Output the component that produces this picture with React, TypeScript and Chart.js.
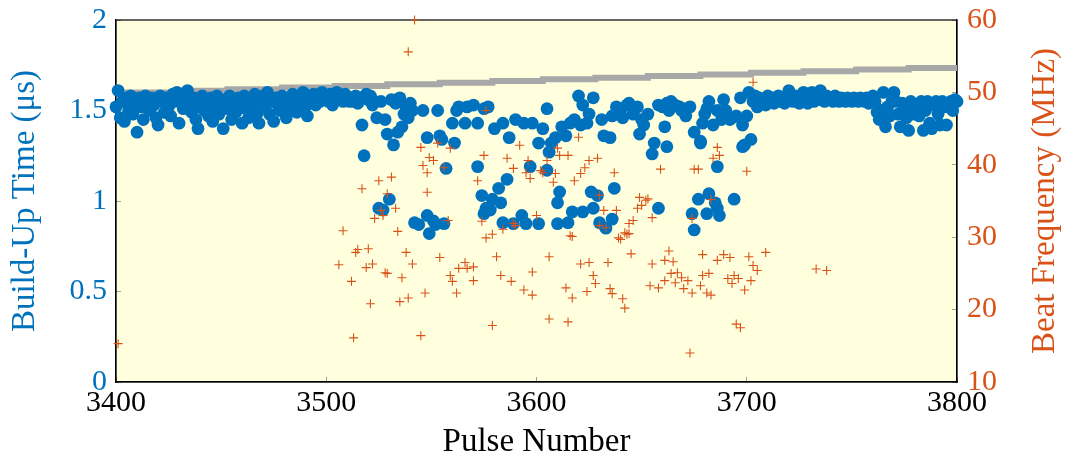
import React, { useEffect, useRef } from "react";
import { Chart, registerables } from "chart.js";

Chart.register(...registerables);

// ---------- DATA ----------
const xTicks = [3400, 3500, 3600, 3700, 3800];
const leftTicks = [0, 0.5, 1, 1.5, 2];
const rightTicks = [10, 20, 30, 40, 50, 60];

// Build-up time (µs), pulses 3400-3511
const buildUpA: [number, number][] = [
  [3400,1.52],[3401,1.61],[3402,1.46],[3403,1.55],[3404,1.44],[3405,1.57],[3406,1.50],[3407,1.58],[3408,1.48],[3409,1.54],
  [3410,1.38],[3411,1.57],[3412,1.52],[3413,1.45],[3414,1.58],[3415,1.56],[3416,1.50],[3417,1.57],[3418,1.53],[3419,1.46],
  [3420,1.42],[3421,1.58],[3422,1.55],[3423,1.49],[3424,1.57],[3425,1.52],[3426,1.47],[3427,1.59],[3428,1.55],[3429,1.60],
  [3430,1.43],[3431,1.58],[3432,1.51],[3433,1.56],[3434,1.61],[3435,1.53],[3436,1.49],[3437,1.57],[3438,1.45],[3439,1.40],
  [3440,1.52],[3441,1.58],[3442,1.50],[3443,1.55],[3444,1.47],[3445,1.57],[3446,1.44],[3447,1.52],[3448,1.58],[3449,1.48],
  [3450,1.54],[3451,1.40],[3452,1.56],[3453,1.51],[3454,1.58],[3455,1.45],[3456,1.53],[3457,1.49],[3458,1.57],[3459,1.55],
  [3460,1.43],[3461,1.58],[3462,1.51],[3463,1.46],[3464,1.56],[3465,1.52],[3466,1.59],[3467,1.48],[3468,1.43],[3469,1.55],
  [3470,1.58],[3471,1.52],[3472,1.60],[3473,1.48],[3474,1.55],[3475,1.44],[3476,1.57],[3477,1.53],[3478,1.50],[3479,1.58],
  [3480,1.55],[3481,1.46],[3482,1.57],[3483,1.52],[3484,1.59],[3485,1.54],[3486,1.49],[3487,1.57],[3488,1.55],[3489,1.60],
  [3490,1.52],[3491,1.47],[3492,1.57],[3493,1.55],[3494,1.59],[3495,1.53],[3496,1.57],[3497,1.55],[3498,1.60],[3499,1.56],
  [3500,1.58],[3501,1.55],[3502,1.59],[3503,1.53],[3504,1.57],[3505,1.60],[3506,1.56],[3507,1.58],[3508,1.55],[3509,1.59],
  [3510,1.57],[3511,1.55],
];

// Build-up time (µs), pulses 3512-3702 (unstable region)
const buildUpB: [number, number][] = [
  [3512,1.57],[3513,1.55],[3514,1.58],[3515,1.54],[3516,1.57],[3517,1.42],[3518,1.25],[3519,1.59],[3520,1.56],[3521,1.58],
  [3522,1.53],[3523,1.55],[3524,1.46],[3526,1.55],[3528,1.45],[3529,1.37],[3531,1.56],[3532,1.31],[3533,1.54],[3534,1.38],
  [3535,1.57],[3536,1.41],[3537,1.48],[3538,1.52],[3539,1.46],[3540,1.54],[3541,1.50],[3546,1.50],[3548,1.35],[3553,1.50],
  [3554,1.36],[3555,1.34],[3560,1.43],[3561,1.32],[3562,1.50],[3563,1.52],[3566,1.43],[3567,1.52],[3570,1.53],[3572,1.43],
  [3575,1.51],[3577,1.52],[3580,1.40],[3584,1.43],[3587,1.35],[3590,1.45],[3594,1.43],[3598,1.43],[3601,1.32],[3603,1.40],
  [3605,1.51],[3606,1.27],[3607,1.32],[3609,1.35],[3612,1.41],[3614,1.36],[3616,1.43],[3618,1.45],[3620,1.58],[3621,1.42],
  [3622,1.53],[3624,1.43],[3625,1.48],[3627,1.57],[3631,1.45],[3632,1.36],[3635,1.35],[3636,1.47],[3638,1.52],[3640,1.50],
  [3641,1.46],[3643,1.53],[3644,1.54],[3646,1.48],[3648,1.52],[3649,1.37],[3650,1.45],[3651,1.42],[3653,1.48],[3655,1.26],
  [3656,1.32],[3658,1.53],[3660,1.52],[3661,1.41],[3662,1.54],[3663,1.50],[3664,1.55],[3666,1.53],[3668,1.52],[3669,1.50],
  [3671,1.47],[3673,1.52],[3675,1.38],[3678,1.33],[3679,1.43],[3680,1.48],[3681,1.51],[3682,1.55],[3684,1.42],[3686,1.50],
  [3688,1.45],[3689,1.56],[3690,1.50],[3692,1.45],[3693,1.46],[3695,1.47],[3697,1.57],[3698,1.42],[3699,1.31],[3700,1.47],
  [3701,1.60],[3702,1.34],
  [3525,0.96],[3527,0.95],[3530,1.01],[3542,0.88],[3544,0.87],[3548,0.92],[3549,0.82],[3551,0.89],[3552,0.87],[3556,0.875],
  [3557,1.18],[3572,1.19],[3574,1.03],[3575,0.93],[3576,0.96],[3578,0.95],[3579,1.01],[3582,1.07],[3583,0.99],[3584,0.88],
  [3586,1.12],[3589,0.875],[3593,0.92],[3595,0.875],[3597,1.19],[3601,0.875],[3605,1.17],[3610,0.875],[3610,0.99],[3611,1.05],
  [3615,0.88],[3617,0.94],[3622,0.94],[3626,1.05],[3627,0.96],[3629,1.03],[3630,0.88],[3633,0.85],[3636,0.90],[3637,1.07],
  [3658,0.96],[3662,1.30],[3674,0.93],[3675,0.84],[3677,1.01],[3678,1.32],[3681,0.93],[3682,1.04],[3685,0.99],[3686,0.96],
  [3686,1.19],[3687,0.92],[3694,1.01],[3698,1.30],
];

// Build-up time (µs), pulses 3703-3800
const buildUpC: [number, number][] = [
  [3703,1.55],[3704,1.58],[3705,1.52],[3706,1.57],[3707,1.54],[3708,1.56],[3709,1.53],[3710,1.58],[3711,1.55],[3712,1.57],
  [3713,1.54],[3714,1.56],[3715,1.58],[3716,1.55],[3717,1.57],[3718,1.54],[3719,1.56],[3720,1.61],[3721,1.57],[3722,1.55],
  [3723,1.58],[3724,1.56],[3725,1.54],[3726,1.57],[3727,1.60],[3728,1.56],[3729,1.54],[3730,1.57],[3731,1.60],[3732,1.55],
  [3733,1.58],[3734,1.56],[3735,1.61],[3736,1.57],[3737,1.55],[3738,1.58],[3739,1.56],[3740,1.57],[3741,1.55],[3742,1.58],
  [3743,1.56],[3744,1.55],[3745,1.57],[3746,1.56],[3747,1.55],[3748,1.57],[3749,1.56],[3750,1.55],[3751,1.57],[3752,1.56],
  [3753,1.55],[3754,1.57],[3755,1.56],[3756,1.55],[3757,1.57],[3758,1.54],[3759,1.56],[3760,1.58],[3761,1.55],[3762,1.49],
  [3763,1.45],[3764,1.50],[3765,1.60],[3766,1.41],[3767,1.52],[3768,1.47],[3769,1.55],[3770,1.60],[3771,1.55],[3772,1.48],
  [3773,1.41],[3774,1.54],[3775,1.50],[3776,1.46],[3777,1.39],[3778,1.55],[3779,1.48],[3780,1.50],[3781,1.52],[3782,1.47],
  [3783,1.55],[3784,1.39],[3785,1.50],[3786,1.55],[3787,1.43],[3788,1.40],[3789,1.53],[3790,1.55],[3791,1.48],[3792,1.42],
  [3793,1.55],[3794,1.52],[3795,1.42],[3796,1.54],[3797,1.55],[3798,1.50],[3799,1.56],[3800,1.55],
];

// Beat frequency (MHz)
const beatFreq: [number, number][] = [
  [3401,15.3],[3542,60.0],[3539,55.6],[3576,47.5],[3703,51.4],
  [3508,30.9],[3534,30.8],[3515,28.3],[3520,28.4],[3514,27.9],[3506,26.2],[3519,25.8],[3522,26.3],[3512,23.9],[3528,25.1],
  [3529,25.0],[3536,24.4],[3538,27.9],[3541,26.3],[3521,20.8],[3535,21.1],[3539,21.6],[3547,22.3],[3513,16.1],[3545,16.4],
  [3554,27.2],[3560,23.9],[3559,24.7],[3562,22.3],[3563,25.7],[3566,26.5],[3567,25.7],[3570,25.9],[3570,24.0],[3581,27.3],
  [3583,24.7],[3588,23.9],[3594,22.7],[3598,22.0],[3598,25.2],[3606,27.3],[3606,18.7],[3579,17.8],[3574,32.2],[3576,29.9],
  [3579,30.4],[3584,31.1],[3590,31.6],
  [3617,30.1],[3621,26.3],[3625,26.5],[3634,26.5],[3645,27.7],[3640,29.7],[3643,30.4],[3663,28.1],[3655,26.3],[3661,26.8],
  [3665,26.6],[3679,27.6],[3686,26.8],[3689,27.6],[3692,27.2],[3701,27.3],[3709,27.9],[3703,26.1],[3705,25.4],[3627,24.7],
  [3628,23.6],[3614,23.0],[3617,21.6],[3624,22.5],[3635,22.9],[3636,22.2],[3641,21.5],[3642,20.2],[3654,23.3],[3658,23.0],
  [3664,25.0],[3667,25.1],[3669,24.4],[3666,23.7],[3661,24.0],[3672,24.0],[3670,22.9],[3674,22.3],[3678,23.3],[3679,24.7],
  [3682,25.0],[3681,22.3],[3683,22.0],[3691,24.3],[3694,24.7],[3696,24.3],[3693,23.6],[3702,24.0],[3699,22.7],[3615,18.3],
  [3695,18.0],[3697,17.5],[3673,14.0],[3733,25.6],[3738,25.4],
  [3545,42.4],[3553,43.0],[3559,42.3],[3549,41.0],[3551,40.6],[3546,39.9],[3548,38.9],[3556,39.6],[3531,38.3],[3525,37.8],
  [3517,36.7],[3548,36.2],[3529,36.0],[3533,34.0],[3526,33.7],[3527,33.0],[3523,32.6],[3558,32.3],[3575,41.3],[3586,40.9],
  [3592,42.7],[3596,40.6],[3589,39.5],[3595,38.9],[3597,38.1],[3572,37.8],[3602,39.2],[3603,38.9],[3605,40.6],[3609,38.8],
  [3608,37.6],[3610,42.3],[3611,41.3],[3615,41.3],[3620,43.8],[3618,37.8],[3621,38.8],[3623,39.6],[3625,40.6],[3629,40.9],
  [3637,38.9],[3630,35.8],[3632,33.7],[3638,33.7],[3649,35.5],[3652,35.1],[3653,35.3],[3650,34.4],[3648,34.0],[3655,32.7],
  [3646,32.3],[3644,31.9],[3630,31.6],[3633,31.3],[3642,30.6],[3644,30.5],[3639,29.9],[3616,30.2],[3589,31.9],[3600,33.0],
  [3686,42.4],[3687,41.3],[3684,40.9],[3675,39.4],[3677,39.4],[3659,39.4],[3700,39.1],[3683,35.2],[3674,32.6],
];

// Gray reference step line (µs)
const refPulse = [3400, 3428, 3453, 3479, 3504, 3529, 3554, 3579, 3603, 3628, 3653, 3678, 3702, 3727, 3752, 3777, 3800];
const refLevel = [1.600, 1.609, 1.618, 1.627, 1.636, 1.645, 1.654, 1.663, 1.672, 1.681, 1.690, 1.699, 1.708, 1.717, 1.726, 1.735, 1.735];

// ---------- STYLE ----------
const BLUE = "#0072BD";
const ORANGE = "#D95319";
const GRAY = "#a8a8a8";
const FONT = '"Liberation Serif", "Times New Roman", serif';

const toPts = (arr: [number, number][]) => arr.map(([x, y]) => ({ x, y }));

export default function App() {
  const ref = useRef<HTMLCanvasElement>(null);

  useEffect(() => {
    if (!ref.current) return;

    const framePlugin = {
      id: "frame",
      beforeDraw(chart: any) {
        const { ctx, chartArea } = chart;
        const { left, top, right, bottom } = chartArea;
        ctx.save();
        ctx.fillStyle = "#FFFFDD";
        ctx.fillRect(left, top, right - left, bottom - top);
        ctx.restore();
      },
      beforeDatasetsDraw(chart: any) {
        const { ctx, chartArea } = chart;
        const { left, top, right, bottom } = chartArea;
        ctx.save();
        ctx.strokeStyle = "#000";
        ctx.lineWidth = 1.2;
        ctx.strokeRect(left, top, right - left, bottom - top);
        ctx.restore();
      },
      afterDraw(chart: any) {
        const { ctx, chartArea } = chart;
        ctx.save();
        ctx.translate(1045, (chartArea.top + chartArea.bottom) / 2);
        ctx.rotate(-Math.PI / 2);
        ctx.textAlign = "center";
        ctx.textBaseline = "middle";
        ctx.fillStyle = ORANGE;
        ctx.font = `33px ${FONT}`;
        ctx.fillText("Beat Frequency (MHz)", 0, 0);
        ctx.restore();
      },
    };

    const tickGrid = {
      drawOnChartArea: false,
      drawTicks: true,
      tickLength: -5,
      color: "#a0a0a0",
      lineWidth: 1,
    };

    const noPad = (s: any) => {
      s.paddingTop = 0;
      s.paddingBottom = 0;
      s.paddingLeft = 0;
      s.paddingRight = 0;
    };

    const chart = new Chart(ref.current, {
      type: "scatter",
      data: {
        datasets: [
          {
            label: "Beat frequency",
            data: toPts(beatFreq),
            yAxisID: "y2",
            pointStyle: "cross",
            pointRadius: 4.5,
            borderColor: ORANGE,
            backgroundColor: ORANGE,
            borderWidth: 1.1,
            showLine: false,
            clip: false as any,
            order: 0,
          },
          {
            label: "Build-up time",
            data: toPts([...buildUpA, ...buildUpB, ...buildUpC]),
            yAxisID: "y",
            pointStyle: "circle",
            pointRadius: 6.4,
            backgroundColor: BLUE,
            borderWidth: 0,
            showLine: false,
            clip: false as any,
            order: 1,
          },
          {
            type: "line",
            label: "Reference",
            data: refPulse.map((x, i) => ({ x, y: refLevel[i] })),
            yAxisID: "y",
            borderColor: GRAY,
            borderWidth: 6,
            pointRadius: 0,
            showLine: true,
            stepped: true,
            fill: false,
            order: 2,
          } as any,
        ],
      },
      options: {
        responsive: false,
        animation: false,
        devicePixelRatio: 1,
        layout: { padding: { top: 20, left: 0, right: 0, bottom: 0 } },
        plugins: {
          legend: { display: false },
          tooltip: { enabled: false },
        },
        scales: {
          x: {
            type: "linear",
            position: "bottom",
            min: 3400,
            max: 3800,
            afterBuildTicks: (s: any) => { s.ticks = xTicks.map((v) => ({ value: v })); },
            ticks: {
              callback: (v: any) => String(v),
              color: "#000",
              font: { family: FONT, size: 30 },
              padding: 8,
              maxRotation: 0,
            },
            grid: tickGrid,
            border: { display: true, color: "#000", width: 1.2 },
            title: {
              display: true,
              text: "Pulse Number",
              color: "#000",
              font: { family: FONT, size: 33 },
              padding: { top: 0, bottom: 1 },
            },
            afterFit: (s: any) => { s.height = 81; noPad(s); },
          },
          y: {
            type: "linear",
            position: "left",
            min: 0,
            max: 2,
            afterBuildTicks: (s: any) => { s.ticks = leftTicks.map((v) => ({ value: v })); },
            ticks: {
              callback: (v: any) => String(Number(v)),
              color: BLUE,
              font: { family: FONT, size: 30 },
              padding: 14,
            },
            grid: tickGrid,
            border: { display: true, color: "#000", width: 1.2 },
            title: {
              display: true,
              text: "Build-Up Time (μs)",
              color: BLUE,
              font: { family: FONT, size: 33 },
              padding: { top: 6, bottom: 0 },
            },
            afterFit: (s: any) => { s.width = 116; noPad(s); },
          },
          y2: {
            type: "linear",
            position: "right",
            min: 10,
            max: 60,
            afterBuildTicks: (s: any) => { s.ticks = rightTicks.map((v) => ({ value: v })); },
            ticks: {
              callback: (v: any) => String(Number(v)),
              color: ORANGE,
              font: { family: FONT, size: 30 },
              padding: 15,
            },
            grid: tickGrid,
            border: { display: true, color: "#000", width: 1.2 },
            afterFit: (s: any) => { s.width = 110; noPad(s); },
          },
        },
      },
      plugins: [framePlugin],
    } as any);

    return () => chart.destroy();
  }, []);

  return (
    <div style={{ position: "absolute", left: 0, top: 0, width: 1067, height: 463, background: "#fff" }}>
      <canvas ref={ref} width={1067} height={463} style={{ display: "block" }} />
    </div>
  );
}
